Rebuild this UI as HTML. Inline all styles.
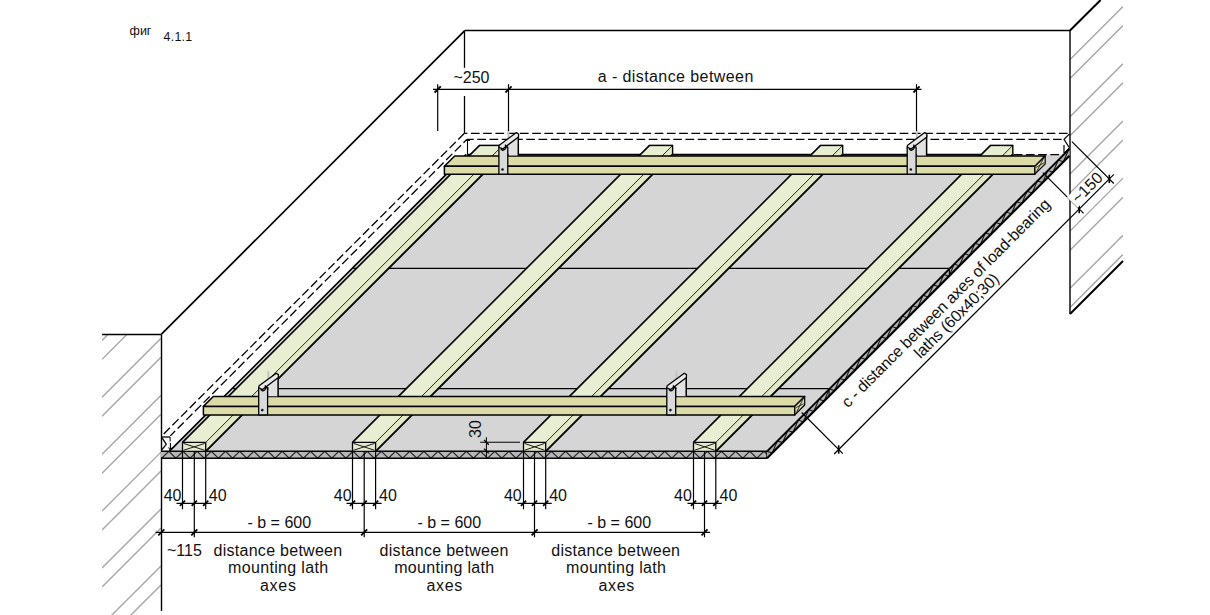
<!DOCTYPE html>
<html><head><meta charset="utf-8"><style>
html,body{margin:0;padding:0;background:#fff;overflow:hidden;}
svg{display:block;}
</style></head><body>
<svg width="1210" height="615" viewBox="0 0 1210 615">
<rect width="1210" height="615" fill="#fff"/>
<clipPath id="cl"><rect x="102" y="334" width="59" height="281"/></clipPath>
<clipPath id="cr"><polygon points="1070,30.5 1100.5,0 1123,0 1123,261 1070,314"/></clipPath>
<g clip-path="url(#cl)" stroke="#a6a6a6" stroke-width="1.4"><line x1="102" y1="226.58" x2="161" y2="167.58"/><line x1="102" y1="245.55" x2="161" y2="186.55"/><line x1="102" y1="283.49" x2="161" y2="224.49"/><line x1="102" y1="302.46" x2="161" y2="243.46"/><line x1="102" y1="340.40" x2="161" y2="281.40"/><line x1="102" y1="359.37" x2="161" y2="300.37"/><line x1="102" y1="397.31" x2="161" y2="338.31"/><line x1="102" y1="416.28" x2="161" y2="357.28"/><line x1="102" y1="454.22" x2="161" y2="395.22"/><line x1="102" y1="473.19" x2="161" y2="414.19"/><line x1="102" y1="511.13" x2="161" y2="452.13"/><line x1="102" y1="530.10" x2="161" y2="471.10"/><line x1="102" y1="568.04" x2="161" y2="509.04"/><line x1="102" y1="587.01" x2="161" y2="528.01"/><line x1="102" y1="624.95" x2="161" y2="565.95"/><line x1="102" y1="643.92" x2="161" y2="584.92"/><line x1="102" y1="681.86" x2="161" y2="622.86"/><line x1="102" y1="700.83" x2="161" y2="641.83"/><line x1="102" y1="738.77" x2="161" y2="679.77"/><line x1="102" y1="757.74" x2="161" y2="698.74"/><line x1="102" y1="795.68" x2="161" y2="736.68"/><line x1="102" y1="814.65" x2="161" y2="755.65"/><line x1="102" y1="852.59" x2="161" y2="793.59"/><line x1="102" y1="871.56" x2="161" y2="812.56"/><line x1="102" y1="909.50" x2="161" y2="850.50"/><line x1="102" y1="928.47" x2="161" y2="869.47"/><line x1="102" y1="966.41" x2="161" y2="907.41"/><line x1="102" y1="985.38" x2="161" y2="926.38"/><line x1="102" y1="1023.32" x2="161" y2="964.32"/><line x1="102" y1="1042.29" x2="161" y2="983.29"/><line x1="102" y1="1080.23" x2="161" y2="1021.23"/></g>
<g clip-path="url(#cr)" stroke="#a6a6a6" stroke-width="1.4"><line x1="1070" y1="-1084.70" x2="1123" y2="-1137.70"/><line x1="1070" y1="-1065.63" x2="1123" y2="-1118.63"/><line x1="1070" y1="-1027.49" x2="1123" y2="-1080.49"/><line x1="1070" y1="-1008.42" x2="1123" y2="-1061.42"/><line x1="1070" y1="-970.28" x2="1123" y2="-1023.28"/><line x1="1070" y1="-951.21" x2="1123" y2="-1004.21"/><line x1="1070" y1="-913.07" x2="1123" y2="-966.07"/><line x1="1070" y1="-894.00" x2="1123" y2="-947.00"/><line x1="1070" y1="-855.86" x2="1123" y2="-908.86"/><line x1="1070" y1="-836.79" x2="1123" y2="-889.79"/><line x1="1070" y1="-798.65" x2="1123" y2="-851.65"/><line x1="1070" y1="-779.58" x2="1123" y2="-832.58"/><line x1="1070" y1="-741.44" x2="1123" y2="-794.44"/><line x1="1070" y1="-722.37" x2="1123" y2="-775.37"/><line x1="1070" y1="-684.23" x2="1123" y2="-737.23"/><line x1="1070" y1="-665.16" x2="1123" y2="-718.16"/><line x1="1070" y1="-627.02" x2="1123" y2="-680.02"/><line x1="1070" y1="-607.95" x2="1123" y2="-660.95"/><line x1="1070" y1="-569.81" x2="1123" y2="-622.81"/><line x1="1070" y1="-550.74" x2="1123" y2="-603.74"/><line x1="1070" y1="-512.60" x2="1123" y2="-565.60"/><line x1="1070" y1="-493.53" x2="1123" y2="-546.53"/><line x1="1070" y1="-455.39" x2="1123" y2="-508.39"/><line x1="1070" y1="-436.32" x2="1123" y2="-489.32"/><line x1="1070" y1="-398.18" x2="1123" y2="-451.18"/><line x1="1070" y1="-379.11" x2="1123" y2="-432.11"/><line x1="1070" y1="-340.97" x2="1123" y2="-393.97"/><line x1="1070" y1="-321.90" x2="1123" y2="-374.90"/><line x1="1070" y1="-283.76" x2="1123" y2="-336.76"/><line x1="1070" y1="-264.69" x2="1123" y2="-317.69"/><line x1="1070" y1="-226.55" x2="1123" y2="-279.55"/><line x1="1070" y1="-207.48" x2="1123" y2="-260.48"/><line x1="1070" y1="-169.34" x2="1123" y2="-222.34"/><line x1="1070" y1="-150.27" x2="1123" y2="-203.27"/><line x1="1070" y1="-112.13" x2="1123" y2="-165.13"/><line x1="1070" y1="-93.06" x2="1123" y2="-146.06"/><line x1="1070" y1="-54.92" x2="1123" y2="-107.92"/><line x1="1070" y1="-35.85" x2="1123" y2="-88.85"/><line x1="1070" y1="2.29" x2="1123" y2="-50.71"/><line x1="1070" y1="21.36" x2="1123" y2="-31.64"/><line x1="1070" y1="59.50" x2="1123" y2="6.50"/><line x1="1070" y1="78.57" x2="1123" y2="25.57"/><line x1="1070" y1="116.71" x2="1123" y2="63.71"/><line x1="1070" y1="135.78" x2="1123" y2="82.78"/><line x1="1070" y1="173.92" x2="1123" y2="120.92"/><line x1="1070" y1="192.99" x2="1123" y2="139.99"/><line x1="1070" y1="231.13" x2="1123" y2="178.13"/><line x1="1070" y1="250.20" x2="1123" y2="197.20"/><line x1="1070" y1="288.34" x2="1123" y2="235.34"/><line x1="1070" y1="307.41" x2="1123" y2="254.41"/><line x1="1070" y1="345.55" x2="1123" y2="292.55"/><line x1="1070" y1="364.62" x2="1123" y2="311.62"/><line x1="1070" y1="402.76" x2="1123" y2="349.76"/><line x1="1070" y1="421.83" x2="1123" y2="368.83"/><line x1="1070" y1="459.97" x2="1123" y2="406.97"/><line x1="1070" y1="479.04" x2="1123" y2="426.04"/><line x1="1070" y1="517.18" x2="1123" y2="464.18"/><line x1="1070" y1="536.25" x2="1123" y2="483.25"/><line x1="1070" y1="574.39" x2="1123" y2="521.39"/><line x1="1070" y1="593.46" x2="1123" y2="540.46"/></g>
<line x1="102.00" y1="334.50" x2="161.50" y2="334.50" stroke="#000" stroke-width="1.4" />
<line x1="161.50" y1="334.50" x2="161.50" y2="611.00" stroke="#000" stroke-width="1.4" />
<line x1="161.50" y1="334.20" x2="464.50" y2="30.80" stroke="#000" stroke-width="1.7" />
<line x1="464.50" y1="30.50" x2="1070.00" y2="30.50" stroke="#000" stroke-width="1.4" />
<line x1="464.50" y1="30.50" x2="464.50" y2="67.80" stroke="#000" stroke-width="1.3" />
<line x1="464.50" y1="96.00" x2="464.50" y2="133.20" stroke="#000" stroke-width="1.3" />
<line x1="1070.00" y1="30.50" x2="1070.00" y2="314.00" stroke="#000" stroke-width="1.4" />
<line x1="1070.00" y1="30.50" x2="1100.60" y2="0.00" stroke="#000" stroke-width="2.0" />
<line x1="1070.00" y1="314.00" x2="1123.00" y2="261.00" stroke="#000" stroke-width="2.0" />
<line x1="464.40" y1="133.30" x2="161.50" y2="436.20" stroke="#000" stroke-width="1.3" stroke-dasharray="8.7,3.55"/>
<line x1="466.80" y1="139.40" x2="170.30" y2="435.90" stroke="#000" stroke-width="1.3" stroke-dasharray="8.7,3.55" stroke-dashoffset="4"/>
<line x1="464.40" y1="133.40" x2="1069.00" y2="133.40" stroke="#000" stroke-width="1.3" stroke-dasharray="8.7,3.55" stroke-dashoffset="5.75"/>
<line x1="466.80" y1="139.40" x2="1063.50" y2="139.40" stroke="#000" stroke-width="1.3" stroke-dasharray="8.7,3.55" stroke-dashoffset="1.8"/>
<polygon points="170.50,451.30 767.00,451.30 1064.30,154.40 467.50,154.40" fill="#d5d5d5" stroke="none" stroke-width="0" stroke-linejoin="round" />
<line x1="232.90" y1="388.60" x2="829.70" y2="388.60" stroke="#000" stroke-width="1.2" />
<line x1="353.20" y1="268.30" x2="950.00" y2="268.30" stroke="#000" stroke-width="1.2" />
<line x1="169.30" y1="451.30" x2="466.20" y2="154.40" stroke="#000" stroke-width="1.7" />
<line x1="467.50" y1="154.60" x2="1013.60" y2="154.60" stroke="#000" stroke-width="1.6" />
<line x1="1013.60" y1="154.60" x2="1063.50" y2="154.60" stroke="#000" stroke-width="1.3" stroke-dasharray="8.7,3.55"/>
<polygon points="161.00,451.30 767.00,451.30 767.00,458.20 161.00,458.20" fill="#b7b7b7" stroke="none" stroke-width="0" stroke-linejoin="round" />
<clipPath id="cf"><rect x="161" y="451" width="606" height="8"/></clipPath>
<polyline clip-path="url(#cf)" points="154.63,451.30 161.72,458.20 168.80,451.30 175.89,458.20 182.97,451.30 190.06,458.20 197.14,451.30 204.23,458.20 211.31,451.30 218.40,458.20 225.48,451.30 232.57,458.20 239.65,451.30 246.74,458.20 253.82,451.30 260.91,458.20 267.99,451.30 275.08,458.20 282.16,451.30 289.25,458.20 296.33,451.30 303.42,458.20 310.50,451.30 317.59,458.20 324.67,451.30 331.75,458.20 338.84,451.30 345.93,458.20 353.01,451.30 360.10,458.20 367.18,451.30 374.26,458.20 381.35,451.30 388.44,458.20 395.52,451.30 402.61,458.20 409.69,451.30 416.77,458.20 423.86,451.30 430.95,458.20 438.03,451.30 445.12,458.20 452.20,451.30 459.28,458.20 466.37,451.30 473.46,458.20 480.54,451.30 487.62,458.20 494.71,451.30 501.80,458.20 508.88,451.30 515.97,458.20 523.05,451.30 530.13,458.20 537.22,451.30 544.31,458.20 551.39,451.30 558.48,458.20 565.56,451.30 572.64,458.20 579.73,451.30 586.82,458.20 593.90,451.30 600.99,458.20 608.07,451.30 615.15,458.20 622.24,451.30 629.33,458.20 636.41,451.30 643.50,458.20 650.58,451.30 657.67,458.20 664.75,451.30 671.84,458.20 678.92,451.30 686.00,458.20 693.09,451.30 700.17,458.20 707.26,451.30 714.35,458.20 721.43,451.30 728.51,458.20 735.60,451.30 742.68,458.20 749.77,451.30 756.86,458.20 763.94,451.30 771.02,458.20 778.11,451.30 785.19,458.20" fill="none" stroke="#222" stroke-width="1.1"/>
<line x1="161.00" y1="451.30" x2="767.00" y2="451.30" stroke="#000" stroke-width="1.4" />
<line x1="161.00" y1="458.20" x2="767.00" y2="458.20" stroke="#000" stroke-width="1.5" />
<line x1="767.00" y1="451.30" x2="767.00" y2="458.20" stroke="#000" stroke-width="1.4" />
<polygon points="767.00,451.30 1069.50,148.80 1069.50,155.70 767.00,458.20" fill="#b0b0b0" stroke="none" stroke-width="0" stroke-linejoin="round" />
<clipPath id="cs"><polygon points="767,451.3 1069.5,148.8 1069.5,155.7 767,458.2"/></clipPath>
<polyline clip-path="url(#cs)" points="767.00,451.30 772.20,453.00 777.40,440.90 782.60,442.60 787.80,430.50 793.00,432.20 798.20,420.10 803.40,421.80 808.60,409.70 813.80,411.40 819.00,399.30 824.20,401.00 829.40,388.90 834.60,390.60 839.80,378.50 845.00,380.20 850.20,368.10 855.40,369.80 860.60,357.70 865.80,359.40 871.00,347.30 876.20,349.00 881.40,336.90 886.60,338.60 891.80,326.50 897.00,328.20 902.20,316.10 907.40,317.80 912.60,305.70 917.80,307.40 923.00,295.30 928.20,297.00 933.40,284.90 938.60,286.60 943.80,274.50 949.00,276.20 954.20,264.10 959.40,265.80 964.60,253.70 969.80,255.40 975.00,243.30 980.20,245.00 985.40,232.90 990.60,234.60 995.80,222.50 1001.00,224.20 1006.20,212.10 1011.40,213.80 1016.60,201.70 1021.80,203.40 1027.00,191.30 1032.20,193.00 1037.40,180.90 1042.60,182.60 1047.80,170.50 1053.00,172.20 1058.20,160.10 1063.40,161.80 1068.60,149.70 1073.80,151.40 1079.00,139.30 1084.20,141.00 1089.40,128.90 1094.60,130.60 1099.80,118.50 1105.00,120.20 1110.20,108.10 1115.40,109.80 1120.60,97.70 1125.80,99.40 1131.00,87.30 1136.20,89.00 1141.40,76.90 1146.60,78.60 1151.80,66.50 1157.00,68.20 1162.20,56.10 1167.40,57.80 1172.60,45.70 1177.80,47.40 1183.00,35.30 1188.20,37.00 1193.40,24.90 1198.60,26.60 1203.80,14.50 1209.00,16.20 1214.20,4.10 1219.40,5.80 1224.60,-6.30 1229.80,-4.60" fill="none" stroke="#1a1a1a" stroke-width="1.1"/>
<line x1="767.00" y1="451.30" x2="1069.50" y2="148.80" stroke="#000" stroke-width="1.9" />
<line x1="767.00" y1="458.20" x2="1069.50" y2="155.70" stroke="#000" stroke-width="2.2" />
<line x1="949.40" y1="268.30" x2="949.40" y2="275.50" stroke="#000" stroke-width="1.1" />
<line x1="829.10" y1="388.60" x2="829.10" y2="395.80" stroke="#000" stroke-width="1.1" />
<polygon points="205.70,442.40 205.70,451.30 502.70,154.30 502.70,145.40" fill="#e2e9c8" stroke="none" stroke-width="0" stroke-linejoin="round" />
<polygon points="182.50,442.40 205.70,442.40 502.70,145.40 479.50,145.40" fill="#e8eed2" stroke="none" stroke-width="0" stroke-linejoin="round" />
<line x1="182.50" y1="442.40" x2="479.50" y2="145.40" stroke="#000" stroke-width="1.6" />
<line x1="205.70" y1="442.40" x2="502.70" y2="145.40" stroke="#26301a" stroke-width="1.0" />
<line x1="205.70" y1="451.30" x2="502.70" y2="154.30" stroke="#000" stroke-width="1.9" />
<line x1="479.00" y1="145.40" x2="503.20" y2="145.40" stroke="#000" stroke-width="1.5" />
<line x1="502.70" y1="145.40" x2="502.70" y2="154.30" stroke="#000" stroke-width="1.4" />
<polygon points="182.50,442.40 205.70,442.40 205.70,451.30 182.50,451.30" fill="#e6ebcf" stroke="#000" stroke-width="1.3" stroke-linejoin="round" />
<line x1="183.50" y1="443.40" x2="204.70" y2="450.30" stroke="#1a1a1a" stroke-width="1.0" />
<line x1="183.50" y1="450.30" x2="204.70" y2="443.40" stroke="#1a1a1a" stroke-width="1.0" />
<polygon points="375.60,442.40 375.60,451.30 672.60,154.30 672.60,145.40" fill="#e2e9c8" stroke="none" stroke-width="0" stroke-linejoin="round" />
<polygon points="352.50,442.40 375.60,442.40 672.60,145.40 649.50,145.40" fill="#e8eed2" stroke="none" stroke-width="0" stroke-linejoin="round" />
<line x1="352.50" y1="442.40" x2="649.50" y2="145.40" stroke="#000" stroke-width="1.6" />
<line x1="375.60" y1="442.40" x2="672.60" y2="145.40" stroke="#26301a" stroke-width="1.0" />
<line x1="375.60" y1="451.30" x2="672.60" y2="154.30" stroke="#000" stroke-width="1.9" />
<line x1="649.00" y1="145.40" x2="673.10" y2="145.40" stroke="#000" stroke-width="1.5" />
<line x1="672.60" y1="145.40" x2="672.60" y2="154.30" stroke="#000" stroke-width="1.4" />
<polygon points="352.50,442.40 375.60,442.40 375.60,451.30 352.50,451.30" fill="#e6ebcf" stroke="#000" stroke-width="1.3" stroke-linejoin="round" />
<line x1="353.50" y1="443.40" x2="374.60" y2="450.30" stroke="#1a1a1a" stroke-width="1.0" />
<line x1="353.50" y1="450.30" x2="374.60" y2="443.40" stroke="#1a1a1a" stroke-width="1.0" />
<polygon points="545.70,442.40 545.70,451.30 842.70,154.30 842.70,145.40" fill="#e2e9c8" stroke="none" stroke-width="0" stroke-linejoin="round" />
<polygon points="523.50,442.40 545.70,442.40 842.70,145.40 820.50,145.40" fill="#e8eed2" stroke="none" stroke-width="0" stroke-linejoin="round" />
<line x1="523.50" y1="442.40" x2="820.50" y2="145.40" stroke="#000" stroke-width="1.6" />
<line x1="545.70" y1="442.40" x2="842.70" y2="145.40" stroke="#26301a" stroke-width="1.0" />
<line x1="545.70" y1="451.30" x2="842.70" y2="154.30" stroke="#000" stroke-width="1.9" />
<line x1="820.00" y1="145.40" x2="843.20" y2="145.40" stroke="#000" stroke-width="1.5" />
<line x1="842.70" y1="145.40" x2="842.70" y2="154.30" stroke="#000" stroke-width="1.4" />
<polygon points="523.50,442.40 545.70,442.40 545.70,451.30 523.50,451.30" fill="#e6ebcf" stroke="#000" stroke-width="1.3" stroke-linejoin="round" />
<line x1="524.50" y1="443.40" x2="544.70" y2="450.30" stroke="#1a1a1a" stroke-width="1.0" />
<line x1="524.50" y1="450.30" x2="544.70" y2="443.40" stroke="#1a1a1a" stroke-width="1.0" />
<polygon points="715.80,442.40 715.80,451.30 1012.80,154.30 1012.80,145.40" fill="#e2e9c8" stroke="none" stroke-width="0" stroke-linejoin="round" />
<polygon points="693.50,442.40 715.80,442.40 1012.80,145.40 990.50,145.40" fill="#e8eed2" stroke="none" stroke-width="0" stroke-linejoin="round" />
<line x1="693.50" y1="442.40" x2="990.50" y2="145.40" stroke="#000" stroke-width="1.6" />
<line x1="715.80" y1="442.40" x2="1012.80" y2="145.40" stroke="#26301a" stroke-width="1.0" />
<line x1="715.80" y1="451.30" x2="1012.80" y2="154.30" stroke="#000" stroke-width="1.9" />
<line x1="990.00" y1="145.40" x2="1013.30" y2="145.40" stroke="#000" stroke-width="1.5" />
<line x1="1012.80" y1="145.40" x2="1012.80" y2="154.30" stroke="#000" stroke-width="1.4" />
<polygon points="693.50,442.40 715.80,442.40 715.80,451.30 693.50,451.30" fill="#e6ebcf" stroke="#000" stroke-width="1.3" stroke-linejoin="round" />
<line x1="694.50" y1="443.40" x2="714.80" y2="450.30" stroke="#1a1a1a" stroke-width="1.0" />
<line x1="694.50" y1="450.30" x2="714.80" y2="443.40" stroke="#1a1a1a" stroke-width="1.0" />
<polygon points="444.40,166.30 1034.90,166.30 1045.20,156.00 454.70,156.00" fill="#dcdba6" stroke="#000" stroke-width="1.5" stroke-linejoin="round" />
<polygon points="444.40,166.30 1034.90,166.30 1034.90,174.20 444.40,174.20" fill="#dcdca8" stroke="#000" stroke-width="1.5" stroke-linejoin="round" />
<polygon points="1034.90,166.30 1045.20,156.00 1045.20,163.90 1034.90,174.20" fill="#dcdca8" stroke="#000" stroke-width="1.2" stroke-linejoin="round" />
<line x1="1035.90" y1="167.50" x2="1044.20" y2="162.70" stroke="#222" stroke-width="0.9" />
<line x1="1035.90" y1="173.00" x2="1044.20" y2="157.20" stroke="#222" stroke-width="0.9" />
<polygon points="508.60,138.60 518.30,135.70 518.30,155.60 508.60,155.60" fill="#e2e2e2" stroke="none" stroke-width="0" stroke-linejoin="round" />
<line x1="518.30" y1="135.20" x2="518.30" y2="155.80" stroke="#000" stroke-width="1.5" />
<polygon points="498.90,146.90 507.80,146.90 507.80,174.20 498.90,174.20" fill="#dadada" stroke="#000" stroke-width="1.3" stroke-linejoin="round" />
<circle cx="502.50" cy="169.50" r="1.3" fill="#111"/>
<line x1="508.50" y1="130.20" x2="508.50" y2="139.20" stroke="#c4c4c4" stroke-width="2.0" />
<polygon points="498.90,147.20 499.30,145.20 516.40,132.60 518.60,134.00 518.50,136.90 502.70,148.90" fill="#e9e9e9" stroke="#000" stroke-width="1.25" stroke-linejoin="round" />
<path d="M500.90,148.70 q1.5,2.8 4,0.6 q2,-2 0.3,-4.6" fill="none" stroke="#000" stroke-width="1.3"/>
<polygon points="916.90,138.60 926.60,135.70 926.60,155.60 916.90,155.60" fill="#e2e2e2" stroke="none" stroke-width="0" stroke-linejoin="round" />
<line x1="926.60" y1="135.20" x2="926.60" y2="155.80" stroke="#000" stroke-width="1.5" />
<polygon points="907.20,146.90 916.10,146.90 916.10,174.20 907.20,174.20" fill="#dadada" stroke="#000" stroke-width="1.3" stroke-linejoin="round" />
<circle cx="910.80" cy="169.50" r="1.3" fill="#111"/>
<line x1="916.80" y1="130.20" x2="916.80" y2="139.20" stroke="#c4c4c4" stroke-width="2.0" />
<polygon points="907.20,147.20 907.60,145.20 924.70,132.60 926.90,134.00 926.80,136.90 911.00,148.90" fill="#e9e9e9" stroke="#000" stroke-width="1.25" stroke-linejoin="round" />
<path d="M909.20,148.70 q1.5,2.8 4,0.6 q2,-2 0.3,-4.6" fill="none" stroke="#000" stroke-width="1.3"/>
<polygon points="203.40,406.40 794.80,406.40 804.70,396.50 213.30,396.50" fill="#dcdba6" stroke="#000" stroke-width="1.5" stroke-linejoin="round" />
<polygon points="203.40,406.40 794.80,406.40 794.80,414.90 203.40,414.90" fill="#dcdca8" stroke="#000" stroke-width="1.5" stroke-linejoin="round" />
<polygon points="794.80,406.40 804.70,396.50 804.70,405.00 794.80,414.90" fill="#dcdca8" stroke="#000" stroke-width="1.2" stroke-linejoin="round" />
<line x1="795.80" y1="407.60" x2="803.70" y2="403.80" stroke="#222" stroke-width="0.9" />
<line x1="795.80" y1="413.70" x2="803.70" y2="397.70" stroke="#222" stroke-width="0.9" />
<polygon points="268.40,379.20 278.10,376.30 278.10,396.20 268.40,396.20" fill="#e2e2e2" stroke="none" stroke-width="0" stroke-linejoin="round" />
<line x1="278.10" y1="375.80" x2="278.10" y2="396.40" stroke="#000" stroke-width="1.5" />
<polygon points="258.70,387.50 267.60,387.50 267.60,414.80 258.70,414.80" fill="#dadada" stroke="#000" stroke-width="1.3" stroke-linejoin="round" />
<circle cx="262.30" cy="410.10" r="1.3" fill="#111"/>
<line x1="268.30" y1="370.80" x2="268.30" y2="379.80" stroke="#c4c4c4" stroke-width="2.0" />
<polygon points="258.70,387.80 259.10,385.80 276.20,373.20 278.40,374.60 278.30,377.50 262.50,389.50" fill="#e9e9e9" stroke="#000" stroke-width="1.25" stroke-linejoin="round" />
<path d="M260.70,389.30 q1.5,2.8 4,0.6 q2,-2 0.3,-4.6" fill="none" stroke="#000" stroke-width="1.3"/>
<polygon points="676.50,379.20 686.20,376.30 686.20,396.20 676.50,396.20" fill="#e2e2e2" stroke="none" stroke-width="0" stroke-linejoin="round" />
<line x1="686.20" y1="375.80" x2="686.20" y2="396.40" stroke="#000" stroke-width="1.5" />
<polygon points="666.80,387.50 675.70,387.50 675.70,414.80 666.80,414.80" fill="#dadada" stroke="#000" stroke-width="1.3" stroke-linejoin="round" />
<circle cx="670.40" cy="410.10" r="1.3" fill="#111"/>
<line x1="676.40" y1="370.80" x2="676.40" y2="379.80" stroke="#c4c4c4" stroke-width="2.0" />
<polygon points="666.80,387.80 667.20,385.80 684.30,373.20 686.50,374.60 686.40,377.50 670.60,389.50" fill="#e9e9e9" stroke="#000" stroke-width="1.25" stroke-linejoin="round" />
<path d="M668.80,389.30 q1.5,2.8 4,0.6 q2,-2 0.3,-4.6" fill="none" stroke="#000" stroke-width="1.3"/>
<polyline points="1069.50,133.80 1064.00,139.30 1069.00,147.30" fill="none" stroke="#000" stroke-width="1.2" />
<line x1="1064.00" y1="145.00" x2="1064.00" y2="153.50" stroke="#000" stroke-width="1.2" />
<line x1="1064.00" y1="153.00" x2="1069.50" y2="147.50" stroke="#000" stroke-width="1.0" />
<line x1="161.50" y1="437.00" x2="170.10" y2="437.00" stroke="#000" stroke-width="1.3" />
<polyline points="162.10,437.80 166.30,444.30 162.10,449.50" fill="none" stroke="#000" stroke-width="1.2" />
<line x1="170.10" y1="437.00" x2="170.10" y2="441.50" stroke="#000" stroke-width="1.0" />
<line x1="170.40" y1="443.00" x2="170.40" y2="451.00" stroke="#000" stroke-width="1.1" />
<line x1="168.60" y1="447.50" x2="170.40" y2="450.50" stroke="#000" stroke-width="1.0" />
<line x1="172.20" y1="447.50" x2="170.40" y2="450.50" stroke="#000" stroke-width="1.0" />
<line x1="467.50" y1="139.60" x2="467.50" y2="155.50" stroke="#000" stroke-width="1.1" />
<line x1="465.00" y1="140.50" x2="470.00" y2="140.50" stroke="#000" stroke-width="1.0" />
<line x1="437.70" y1="84.20" x2="437.70" y2="131.00" stroke="#000" stroke-width="1.2" />
<line x1="508.50" y1="84.20" x2="508.50" y2="131.00" stroke="#000" stroke-width="1.2" />
<line x1="916.50" y1="84.20" x2="916.50" y2="131.00" stroke="#000" stroke-width="1.2" />
<line x1="433.00" y1="89.40" x2="921.50" y2="89.40" stroke="#000" stroke-width="1.3" />
<line x1="434.60" y1="92.50" x2="440.80" y2="86.30" stroke="#000" stroke-width="1.8" />
<line x1="505.40" y1="92.50" x2="511.60" y2="86.30" stroke="#000" stroke-width="1.8" />
<line x1="913.40" y1="92.50" x2="919.60" y2="86.30" stroke="#000" stroke-width="1.8" />
<line x1="182.50" y1="451.50" x2="182.50" y2="509.30" stroke="#000" stroke-width="1.2" />
<line x1="205.70" y1="451.50" x2="205.70" y2="509.30" stroke="#000" stroke-width="1.2" />
<line x1="194.30" y1="451.50" x2="194.30" y2="537.30" stroke="#000" stroke-width="1.2" />
<line x1="176.50" y1="503.30" x2="211.70" y2="503.30" stroke="#000" stroke-width="1.3" />
<line x1="179.90" y1="505.90" x2="185.10" y2="500.70" stroke="#000" stroke-width="1.7" />
<line x1="191.70" y1="505.90" x2="196.90" y2="500.70" stroke="#000" stroke-width="1.7" />
<line x1="203.10" y1="505.90" x2="208.30" y2="500.70" stroke="#000" stroke-width="1.7" />
<line x1="352.50" y1="451.50" x2="352.50" y2="509.30" stroke="#000" stroke-width="1.2" />
<line x1="375.60" y1="451.50" x2="375.60" y2="509.30" stroke="#000" stroke-width="1.2" />
<line x1="364.20" y1="451.50" x2="364.20" y2="537.30" stroke="#000" stroke-width="1.2" />
<line x1="346.50" y1="503.30" x2="381.60" y2="503.30" stroke="#000" stroke-width="1.3" />
<line x1="349.90" y1="505.90" x2="355.10" y2="500.70" stroke="#000" stroke-width="1.7" />
<line x1="361.60" y1="505.90" x2="366.80" y2="500.70" stroke="#000" stroke-width="1.7" />
<line x1="373.00" y1="505.90" x2="378.20" y2="500.70" stroke="#000" stroke-width="1.7" />
<line x1="523.50" y1="451.50" x2="523.50" y2="509.30" stroke="#000" stroke-width="1.2" />
<line x1="545.70" y1="451.50" x2="545.70" y2="509.30" stroke="#000" stroke-width="1.2" />
<line x1="534.50" y1="451.50" x2="534.50" y2="537.30" stroke="#000" stroke-width="1.2" />
<line x1="517.50" y1="503.30" x2="551.70" y2="503.30" stroke="#000" stroke-width="1.3" />
<line x1="520.90" y1="505.90" x2="526.10" y2="500.70" stroke="#000" stroke-width="1.7" />
<line x1="531.90" y1="505.90" x2="537.10" y2="500.70" stroke="#000" stroke-width="1.7" />
<line x1="543.10" y1="505.90" x2="548.30" y2="500.70" stroke="#000" stroke-width="1.7" />
<line x1="693.50" y1="451.50" x2="693.50" y2="509.30" stroke="#000" stroke-width="1.2" />
<line x1="715.80" y1="451.50" x2="715.80" y2="509.30" stroke="#000" stroke-width="1.2" />
<line x1="704.50" y1="451.50" x2="704.50" y2="537.30" stroke="#000" stroke-width="1.2" />
<line x1="687.50" y1="503.30" x2="721.80" y2="503.30" stroke="#000" stroke-width="1.3" />
<line x1="690.90" y1="505.90" x2="696.10" y2="500.70" stroke="#000" stroke-width="1.7" />
<line x1="701.90" y1="505.90" x2="707.10" y2="500.70" stroke="#000" stroke-width="1.7" />
<line x1="713.20" y1="505.90" x2="718.40" y2="500.70" stroke="#000" stroke-width="1.7" />
<line x1="155.50" y1="532.30" x2="710.00" y2="532.30" stroke="#000" stroke-width="1.3" />
<line x1="158.30" y1="535.30" x2="164.30" y2="529.30" stroke="#000" stroke-width="1.8" />
<line x1="191.30" y1="535.30" x2="197.30" y2="529.30" stroke="#000" stroke-width="1.8" />
<line x1="361.20" y1="535.30" x2="367.20" y2="529.30" stroke="#000" stroke-width="1.8" />
<line x1="531.60" y1="535.30" x2="537.60" y2="529.30" stroke="#000" stroke-width="1.8" />
<line x1="701.50" y1="535.30" x2="707.50" y2="529.30" stroke="#000" stroke-width="1.8" />
<line x1="486.40" y1="437.20" x2="486.40" y2="457.70" stroke="#000" stroke-width="1.0" />
<line x1="480.20" y1="442.30" x2="520.00" y2="442.30" stroke="#000" stroke-width="1.1" />
<line x1="484.00" y1="439.90" x2="488.80" y2="444.70" stroke="#000" stroke-width="1.3" />
<line x1="484.00" y1="448.60" x2="488.80" y2="453.40" stroke="#000" stroke-width="1.3" />
<line x1="834.20" y1="454.00" x2="1113.90" y2="174.30" stroke="#000" stroke-width="1.2" />
<line x1="801.70" y1="412.50" x2="842.80" y2="453.60" stroke="#000" stroke-width="1.2" />
<line x1="1042.80" y1="172.60" x2="1083.60" y2="213.40" stroke="#000" stroke-width="1.2" />
<line x1="1071.90" y1="141.60" x2="1113.80" y2="183.50" stroke="#000" stroke-width="1.2" />
<line x1="838.70" y1="445.30" x2="838.70" y2="453.70" stroke="#000" stroke-width="1.6" />
<line x1="1079.20" y1="204.80" x2="1079.20" y2="213.20" stroke="#000" stroke-width="1.6" />
<line x1="1109.30" y1="174.70" x2="1109.30" y2="183.10" stroke="#000" stroke-width="1.6" />
<text x="129.6" y="34.5" font-size="12.5" fill="#111" style="font-family:'Liberation Sans',sans-serif;">фиг</text>
<text x="163.6" y="40.8" font-size="12.4" fill="#111" style="font-family:'Liberation Sans',sans-serif;" textLength="28.5" lengthAdjust="spacing">4.1.1</text>
<text x="453.40" y="83.05"   font-size="16" fill="#111" style="font-family:'Liberation Sans',sans-serif;" >~250</text>
<text x="597.70" y="81.80" textLength="155.6" lengthAdjust="spacing"  font-size="16" fill="#111" style="font-family:'Liberation Sans',sans-serif;" >a - distance between</text>
<text x="163.70" y="500.70"   font-size="16" fill="#111" style="font-family:'Liberation Sans',sans-serif;" >40</text>
<text x="208.80" y="500.70"   font-size="16" fill="#111" style="font-family:'Liberation Sans',sans-serif;" >40</text>
<text x="333.80" y="500.70"   font-size="16" fill="#111" style="font-family:'Liberation Sans',sans-serif;" >40</text>
<text x="379.00" y="500.70"   font-size="16" fill="#111" style="font-family:'Liberation Sans',sans-serif;" >40</text>
<text x="503.90" y="500.70"   font-size="16" fill="#111" style="font-family:'Liberation Sans',sans-serif;" >40</text>
<text x="549.20" y="500.70"   font-size="16" fill="#111" style="font-family:'Liberation Sans',sans-serif;" >40</text>
<text x="674.00" y="500.70"   font-size="16" fill="#111" style="font-family:'Liberation Sans',sans-serif;" >40</text>
<text x="719.50" y="500.70"   font-size="16" fill="#111" style="font-family:'Liberation Sans',sans-serif;" >40</text>
<text x="247.50" y="527.90"   font-size="16" fill="#111" style="font-family:'Liberation Sans',sans-serif;" >- b = 600</text>
<text x="417.50" y="527.90"   font-size="16" fill="#111" style="font-family:'Liberation Sans',sans-serif;" >- b = 600</text>
<text x="587.50" y="527.90"   font-size="16" fill="#111" style="font-family:'Liberation Sans',sans-serif;" >- b = 600</text>
<text x="213.50" y="555.70" textLength="128.7" lengthAdjust="spacing"  font-size="16" fill="#111" style="font-family:'Liberation Sans',sans-serif;" >distance between</text>
<text x="379.60" y="555.70" textLength="128.7" lengthAdjust="spacing"  font-size="16" fill="#111" style="font-family:'Liberation Sans',sans-serif;" >distance between</text>
<text x="551.30" y="555.70" textLength="128.7" lengthAdjust="spacing"  font-size="16" fill="#111" style="font-family:'Liberation Sans',sans-serif;" >distance between</text>
<text x="228.10" y="572.90" textLength="100.0" lengthAdjust="spacing"  font-size="16" fill="#111" style="font-family:'Liberation Sans',sans-serif;" >mounting lath</text>
<text x="394.20" y="572.90" textLength="100.0" lengthAdjust="spacing"  font-size="16" fill="#111" style="font-family:'Liberation Sans',sans-serif;" >mounting lath</text>
<text x="566.00" y="572.90" textLength="100.0" lengthAdjust="spacing"  font-size="16" fill="#111" style="font-family:'Liberation Sans',sans-serif;" >mounting lath</text>
<text x="260.00" y="590.50" textLength="35.9" lengthAdjust="spacing"  font-size="16" fill="#111" style="font-family:'Liberation Sans',sans-serif;" >axes</text>
<text x="426.40" y="590.50" textLength="35.9" lengthAdjust="spacing"  font-size="16" fill="#111" style="font-family:'Liberation Sans',sans-serif;" >axes</text>
<text x="598.40" y="590.50" textLength="35.9" lengthAdjust="spacing"  font-size="16" fill="#111" style="font-family:'Liberation Sans',sans-serif;" >axes</text>
<text x="167.00" y="555.50"   font-size="16" fill="#111" style="font-family:'Liberation Sans',sans-serif;" >~115</text>
<text transform="translate(481.3,429.1) rotate(-90)" text-anchor="middle" font-size="16" fill="#111" style="font-family:'Liberation Sans',sans-serif;">30</text>
<g transform="translate(1091,191.55) rotate(-45)"><rect x="-21" y="-13" width="42" height="15" fill="#fff"/><text x="0" y="0" text-anchor="middle" font-size="16" fill="#111" style="font-family:'Liberation Sans',sans-serif;">~150</text></g>
<text transform="translate(949.6,306.8) rotate(-45)" text-anchor="middle" textLength="287.5" lengthAdjust="spacing" font-size="16" fill="#111" style="font-family:'Liberation Sans',sans-serif;">c - distance between axes of load-bearing</text>
<text transform="translate(960.26,319.58) rotate(-45)" text-anchor="middle" textLength="112.4" lengthAdjust="spacing" font-size="16" fill="#111" style="font-family:'Liberation Sans',sans-serif;">laths (60x40;30)</text>
</svg>
</body></html>
